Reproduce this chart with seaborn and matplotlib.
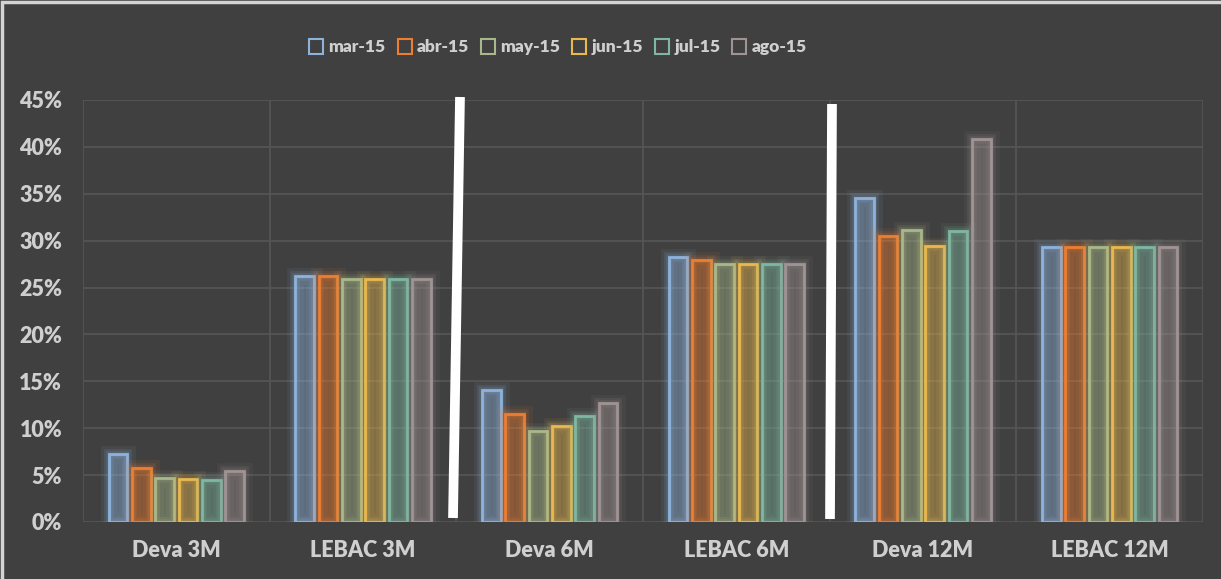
import matplotlib
matplotlib.use("Agg")
import matplotlib.pyplot as plt
import matplotlib.patheffects as pe
from matplotlib.patches import Patch, Rectangle
from matplotlib.lines import Line2D
from matplotlib.ticker import FuncFormatter, MultipleLocator
import seaborn as sns
import pandas as pd

categories = ["Deva 3M", "LEBAC 3M", "Deva 6M", "LEBAC 6M", "Deva 12M", "LEBAC 12M"]
months = ["mar-15", "abr-15", "may-15", "jun-15", "jul-15", "ago-15"]
mar_15 = [7.2, 26.2, 14.1, 28.3, 34.6, 29.3]
abr_15 = [5.8, 26.2, 11.5, 27.9, 30.5, 29.3]
may_15 = [4.7, 25.9, 9.7, 27.5, 31.1, 29.3]
jun_15 = [4.6, 25.9, 10.2, 27.5, 29.4, 29.3]
jul_15 = [4.5, 25.9, 11.3, 27.5, 31.0, 29.3]
ago_15 = [5.4, 25.9, 12.7, 27.5, 40.8, 29.3]
colors = ["#8db3dc", "#ed7d31", "#a9b88a", "#e9b84f", "#7fb8a2", "#a09393"]

series = [mar_15, abr_15, may_15, jun_15, jul_15, ago_15]
rows = []
for m, vals in zip(months, series):
    for c, v in zip(categories, vals):
        rows.append({"cat": c, "month": m, "val": v / 100})
df = pd.DataFrame(rows)

sns.set_theme(style="dark")
plt.rcParams["font.family"] = ["Lato", "DejaVu Sans"]
plt.rcParams["font.weight"] = "heavy"

bg = "#404040"
txt = "#cfcfcf"
grid = "#555555"

fig = plt.figure(figsize=(12.21, 5.79), dpi=100, facecolor=bg)
ax = fig.add_axes([83 / 1221, 1 - 522 / 579, (1203 - 83) / 1221, (522 - 100) / 579])
ax.set_facecolor(bg)

sns.barplot(data=df, x="cat", y="val", hue="month", order=categories, hue_order=months,
            palette=colors, width=0.75, gap=0.2, ax=ax, legend=False,
            errorbar=None, zorder=3)

# style bars: translucent fill, colored outline, glow
for i, cont in enumerate(ax.containers):
    col = colors[i]
    for p in cont:
        p.set_facecolor(matplotlib.colors.to_rgba(col, 0.13))
        p.set_edgecolor(col)
        p.set_linewidth(2.0)
        p.set_path_effects([
            pe.Stroke(linewidth=12, foreground=col, alpha=0.08),
            pe.Stroke(linewidth=7, foreground=col, alpha=0.12),
            pe.Stroke(linewidth=4, foreground=col, alpha=0.15),
            pe.Normal(),
        ])

ax.set_ylim(0, 0.45)
ax.set_xlim(-0.5, 5.5)
ax.yaxis.set_major_locator(MultipleLocator(0.05))
ax.yaxis.set_major_formatter(FuncFormatter(lambda v, _: f"{v*100:.0f}%"))
ax.xaxis.set_minor_locator(MultipleLocator(1, offset=0.5))
ax.grid(True, axis="y", which="major", color=grid, linewidth=1.3, zorder=0)
ax.grid(True, axis="x", which="minor", color=grid, linewidth=1.3, zorder=0)
ax.grid(False, axis="x", which="major")
ax.set_axisbelow(True)
for s in ax.spines.values():
    s.set_visible(False)
ax.set_xlabel("")
ax.set_ylabel("")
ax.tick_params(axis="both", which="both", length=0)
ax.tick_params(axis="y", pad=15, labelsize=15.5, labelcolor=txt)
ax.tick_params(axis="x", pad=13, labelsize=15.5, labelcolor=txt)
for lbl in ax.get_xticklabels() + ax.get_yticklabels():
    lbl.set_fontweight("heavy")

handles = [Patch(facecolor="none", edgecolor=c, linewidth=1.5, label=m) for m, c in zip(months, colors)]
leg = fig.legend(handles=handles, loc="center", bbox_to_anchor=(558 / 1221, 1 - 47 / 579), ncol=6,
                 frameon=False, handlelength=0.8, handleheight=1.0, handletextpad=0.3,
                 columnspacing=0.7, prop={"size": 12.5, "weight": "heavy"})
for t in leg.get_texts():
    t.set_color(txt)

# white separator lines
fig.add_artist(Line2D([460 / 1221, 453 / 1221], [1 - 97 / 579, 1 - 518 / 579],
                      transform=fig.transFigure, color="white", linewidth=7, solid_capstyle="butt"))
fig.add_artist(Line2D([832 / 1221, 830 / 1221], [1 - 104 / 579, 1 - 519 / 579],
                      transform=fig.transFigure, color="white", linewidth=7, solid_capstyle="butt"))

# outer border
fig.add_artist(Rectangle((2 / 1221, -0.01), 1.02, 1 - 2 / 579 + 0.01, transform=fig.transFigure,
                         fill=False, edgecolor="#d4d4d4", linewidth=2.5))

fig.savefig("out.png", dpi=100, facecolor=bg)
